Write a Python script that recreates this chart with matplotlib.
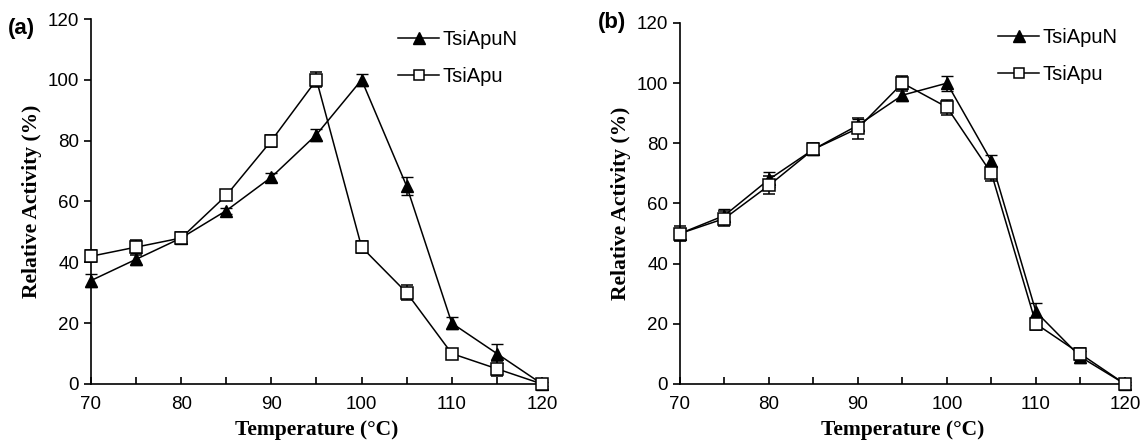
import matplotlib.pyplot as plt
from matplotlib.lines import Line2D

# temperature (°C)
temps = [70, 75, 80, 85, 90, 95, 100, 105, 110, 115, 120]

# panel (a)
a_apun = [34, 41, 48, 57, 68, 82, 100, 65, 20, 10, 0]
a_apun_err = [2, 2, 1, 1, 1.5, 2, 2, 3, 2, 3, 0.5]
a_apu = [42, 45, 48, 62, 80, 100, 45, 30, 10, 5, 0]
a_apu_err = [2, 2.5, 2, 1.5, 2, 2.5, 2, 2.5, 1.5, 2.5, 0.5]

# panel (b)
b_apun = [50, 56, 68, 78, 86, 96, 100, 74, 24, 9, 0]
b_apun_err = [2, 2, 2.5, 2, 2, 2, 2.5, 2, 3, 2, 0.5]
b_apu = [50, 55, 66, 78, 85, 100, 92, 70, 20, 10, 0]
b_apu_err = [2.5, 2.5, 3, 2, 3.5, 2.5, 2.5, 2.5, 2, 2, 0.5]

fig = plt.figure(figsize=(11.43, 4.4), dpi=100)
ax_a = fig.add_axes([0.0796, 0.1273, 0.3946, 0.8295])
ax_b = fig.add_axes([0.5949, 0.1273, 0.3893, 0.8205])

tick_font = 'Liberation Sans'
label_font = 'Liberation Serif'


def draw_panel(ax, apun, apun_err, apu, apu_err, letter, letter_y, leg_anchor):
    ax.errorbar(temps, apun, yerr=apun_err, color='black', marker='^', ms=8.5,
                mfc='black', mec='black', lw=1.1, capsize=4, elinewidth=1.1,
                zorder=3, clip_on=False)
    ax.errorbar(temps, apu, yerr=apu_err, color='black', marker='s', ms=8,
                mfc='white', mec='black', mew=1.1, lw=1.1, capsize=4,
                elinewidth=1.1, zorder=4, clip_on=False)
    ax.set_xlim(70, 120)
    ax.set_ylim(0, 120)
    ax.set_xticks(range(70, 121, 10))
    ax.set_xticks(range(75, 120, 10), minor=True)
    ax.set_yticks(range(0, 121, 20))
    ax.spines['top'].set_visible(False)
    ax.spines['right'].set_visible(False)
    ax.spines['left'].set_linewidth(1.2)
    ax.spines['bottom'].set_linewidth(1.2)
    ax.tick_params(axis='x', which='both', direction='in', length=5, width=1.2,
                   labelsize=13.5, pad=9)
    ax.tick_params(axis='y', direction='out', length=5, width=1.2, labelsize=13.5)
    for lab in ax.get_xticklabels() + ax.get_yticklabels():
        lab.set_fontfamily(tick_font)
    ax.set_xlabel('Temperature (°C)', fontfamily=label_font, fontweight='bold',
                  fontsize=15.5, labelpad=5)
    ax.set_ylabel('Relative Activity (%)', fontfamily=label_font,
                  fontweight='bold', fontsize=15.5, labelpad=4)
    ax.text(-0.185, letter_y, letter, transform=ax.transAxes, fontsize=16,
            fontweight='bold', fontfamily=tick_font, va='center', ha='left')
    handles = [
        Line2D([], [], color='black', marker='^', ms=8.5, mfc='black', lw=1.1),
        Line2D([], [], color='black', marker='s', ms=7, mfc='white', mew=1.1, lw=1.1),
    ]
    ax.legend(handles, ['TsiApuN', 'TsiApu'], loc='upper right',
              bbox_to_anchor=leg_anchor, frameon=False,
              prop={'family': tick_font, 'size': 14.5}, handlelength=2.0,
              handletextpad=0.2, labelspacing=0.9, borderaxespad=0.2)


draw_panel(ax_a, a_apun, a_apun_err, a_apu, a_apu_err, '(a)', 0.975, (0.973, 1.004))
draw_panel(ax_b, b_apun, b_apun_err, b_apu, b_apu_err, '(b)', 1.0, (1.011, 1.019))

fig.savefig('out.png', dpi=100)
